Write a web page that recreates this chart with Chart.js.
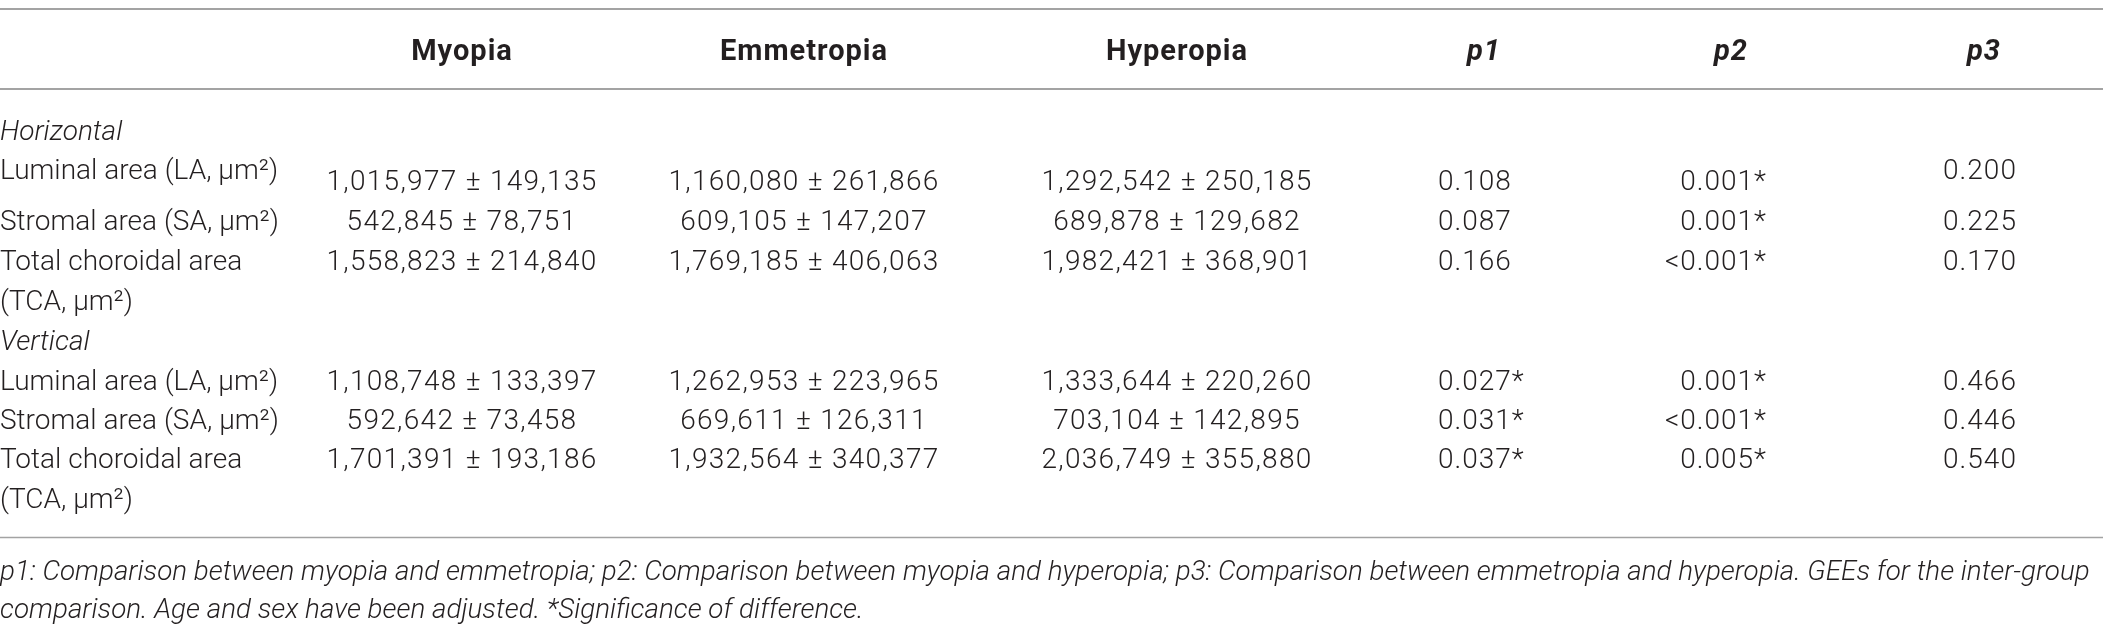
<!DOCTYPE html>
<html>
<head>
<meta charset="utf-8">
<title>Choroidal areas by refractive group</title>
<script src="https://cdn.jsdelivr.net/npm/chart.js@4.4.1/dist/chart.umd.min.js"></script>
<style>
  html, body { margin: 0; padding: 0; background: #ffffff; }
  #wrap { width: 2103px; height: 639px; position: relative; }
</style>
</head>
<body>
<div id="wrap"><canvas id="tableChart"></canvas></div>
<script>
// ---- table content ----
const groups = ["Myopia", "Emmetropia", "Hyperopia"];
const pLabels = ["p1", "p2", "p3"];
const sections = ["Horizontal", "Vertical"];
const measures = ["Luminal area (LA, μm²)", "Stromal area (SA, μm²)", ["Total choroidal area", "(TCA, μm²)"]];

// rows: horizontal LA, SA, TCA, then vertical LA, SA, TCA
const myopiaMean = [1015977, 542845, 1558823, 1108748, 592642, 1701391];
const myopiaSD = [149135, 78751, 214840, 133397, 73458, 193186];
const emmetropiaMean = [1160080, 609105, 1769185, 1262953, 669611, 1932564];
const emmetropiaSD = [261866, 147207, 406063, 223965, 126311, 340377];
const hyperopiaMean = [1292542, 689878, 1982421, 1333644, 703104, 2036749];
const hyperopiaSD = [250185, 129682, 368901, 220260, 142895, 355880];
const p1Values = ["0.108", "0.087", "0.166", "0.027*", "0.031*", "0.037*"];
const p2Values = ["0.001*", "0.001*", "<0.001*", "0.001*", "<0.001*", "0.005*"];
const p3Values = ["0.200", "0.225", "0.170", "0.466", "0.446", "0.540"];

const footnote = [
  "p1: Comparison between myopia and emmetropia; p2: Comparison between myopia and hyperopia; p3: Comparison between emmetropia and hyperopia. GEEs for the inter-group",
  "comparison. Age and sex have been adjusted. *Significance of difference."
];

// ---- layout (axis units = page pixels) ----
const W = 2103, H = 639;
const labelX = 0;
const groupX = [462, 804, 1177];
const pHeadX = [1484, 1731, 1984];
const pX = [1438, 1767, 1980];
const pAlign = ["left", "right", "center"];
const headerY = 50;
const sectionY = [130, 340];
const rowY = [169, 220, 260, 380, 419, 458];
const valueShift = [11, 0, 0, 0, 0, 0];   // first row values sit a bit lower
const footY = [570, 608];
const lineGap = 40;
const rules = [{ y: 9, w: 2 }, { y: 89, w: 2 }, { y: 537.5, w: 1.5 }];

const TEXT = "#231f20";
const RULE = "#a3a3a3";
const FAM = "Roboto, 'Liberation Sans', sans-serif";
const fBody = "300 28px " + FAM;
const fItal = "italic 300 28px " + FAM;
const fHead = "bold 29px " + FAM;
const fHeadIt = "italic bold 29px " + FAM;
const fFoot = "italic 300 27.8px " + FAM;

const fmt = n => n.toLocaleString("en-US");
const pm = (m, s) => m.map((v, i) => fmt(v) + " ± " + fmt(s[i]));

function textSet(points, texts, font, align, spacing) {
  return { data: points, texts: texts, font: font, align: align, spacing: spacing || 0, pointRadius: 0, showLine: false };
}

const rowLabelTexts = sections.flatMap(() => measures);
const datasets = [
  textSet(groups.map((g, i) => ({ x: groupX[i], y: headerY })), groups, fHead, "center", 1),
  textSet(pLabels.map((p, i) => ({ x: pHeadX[i], y: headerY })), pLabels, fHeadIt, "center", 1),
  textSet(sections.map((s, i) => ({ x: labelX, y: sectionY[i] })), sections, fItal, "left"),
  textSet(rowY.map(y => ({ x: labelX, y: y })), rowLabelTexts, fBody, "left"),
  textSet(rowY.map((y, r) => ({ x: groupX[0], y: y + valueShift[r] })), pm(myopiaMean, myopiaSD), fBody, "center", 1.3),
  textSet(rowY.map((y, r) => ({ x: groupX[1], y: y + valueShift[r] })), pm(emmetropiaMean, emmetropiaSD), fBody, "center", 1.3),
  textSet(rowY.map((y, r) => ({ x: groupX[2], y: y + valueShift[r] })), pm(hyperopiaMean, hyperopiaSD), fBody, "center", 1.3),
  textSet(rowY.map((y, r) => ({ x: pX[0], y: y + valueShift[r] })), p1Values, fBody, pAlign[0], 1),
  textSet(rowY.map((y, r) => ({ x: pX[1], y: y + valueShift[r] })), p2Values, fBody, pAlign[1], 1),
  textSet(rowY.map(y => ({ x: pX[2], y: y })), p3Values, fBody, pAlign[2], 1),
  textSet(footY.map(y => ({ x: labelX, y: y })), footnote, fFoot, "left")
];

// draws the horizontal rules of the table
const tableRules = {
  id: "tableRules",
  beforeDatasetsDraw(chart) {
    const { ctx, scales } = chart;
    ctx.save();
    ctx.strokeStyle = RULE;
    rules.forEach(r => {
      const y = scales.y.getPixelForValue(r.y);
      ctx.lineWidth = r.w;
      ctx.beginPath();
      ctx.moveTo(scales.x.getPixelForValue(0), y);
      ctx.lineTo(scales.x.getPixelForValue(W), y);
      ctx.stroke();
    });
    ctx.restore();
  }
};

// writes each cell's text at its point
const tableText = {
  id: "tableText",
  afterDatasetsDraw(chart) {
    const { ctx, scales } = chart;
    const gap = scales.y.getPixelForValue(lineGap) - scales.y.getPixelForValue(0);
    chart.data.datasets.forEach((ds, i) => {
      const meta = chart.getDatasetMeta(i);
      ctx.save();
      ctx.font = ds.font;
      if ("letterSpacing" in ctx) ctx.letterSpacing = ds.spacing + "px";
      ctx.fillStyle = TEXT;
      ctx.textAlign = ds.align;
      ctx.textBaseline = "alphabetic";
      const size = parseFloat(ds.font.match(/(\d+(\.\d+)?)px/)[1]);
      meta.data.forEach((pt, j) => {
        const lines = [].concat(ds.texts[j]);
        lines.forEach((line, k) => {
          ctx.fillText(line, pt.x, pt.y + size * 0.36 + k * gap);
        });
      });
      ctx.restore();
    });
  }
};

new Chart(document.getElementById("tableChart"), {
  type: "scatter",
  data: { datasets: datasets },
  options: {
    responsive: true,
    maintainAspectRatio: false,
    animation: false,
    events: [],
    layout: { padding: 0 },
    plugins: { legend: { display: false }, tooltip: { enabled: false } },
    scales: {
      x: { type: "linear", min: 0, max: W, display: false },
      y: { type: "linear", min: 0, max: H, reverse: true, display: false }
    }
  },
  plugins: [tableRules, tableText]
});
</script>
</body>
</html>
